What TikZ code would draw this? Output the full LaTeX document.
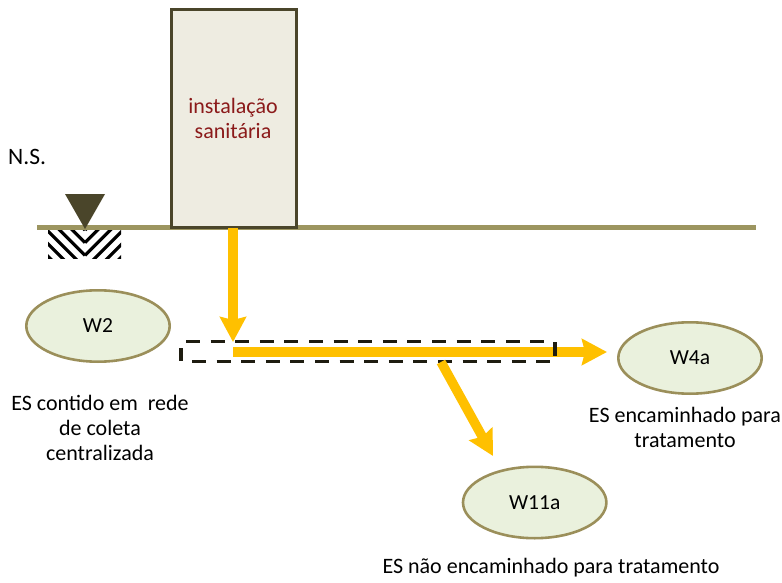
\documentclass[tikz,border=0pt]{standalone}
\usepackage{fontspec}
\setmainfont{Carlito}
\usetikzlibrary{arrows.meta,shapes.geometric}
\definecolor{flow}{HTML}{FFC000}
\definecolor{boxfill}{HTML}{EEECE1}
\definecolor{boxline}{HTML}{4A452A}
\definecolor{ground}{HTML}{9C9560}
\definecolor{ellfill}{HTML}{EAF1DD}
\definecolor{ellline}{HTML}{9B8F5A}
\definecolor{sanit}{HTML}{8B1A1A}
\definecolor{dashc}{HTML}{1E1C10}
\tikzset{
  x=1pt,y=-1pt,
  state/.style={ellipse,draw=ellline,line width=2.6pt,fill=ellfill,minimum width=143.4pt,minimum height=71.4pt,inner sep=0pt,font=\fontsize{21.5}{25}\selectfont,text=black},
  flowline/.style={draw=flow,line width=9.5pt,-{Stealth[inset=3pt,length=25pt,width=26pt]}},
  pipe/.style={draw=dashc,line width=3pt,dash pattern=on 14pt off 10.6pt},
  pipetick/.style={draw=dashc,line width=3.2pt},
  caption/.style={align=center,font=\fontsize{22}{25}\selectfont,text=black,inner sep=0pt},
}
\begin{document}
\begin{tikzpicture}
\useasboundingbox (0,0) rectangle (782,583);
% hatching
\begin{scope}
\clip (48,229) rectangle (121,258);
\foreach \k in {-1,...,7}{
  \draw[line width=3.2pt,black] (85,{230+12.7*\k}) -- +(-60,-60);
  \draw[line width=3.2pt,black] (85,{230+12.7*\k}) -- +(60,-60);
}
\end{scope}
\coordinate (gl) at (37,227);
\coordinate (gr) at (756,227);
\draw[ground,line width=5pt] (gl) -- (gr);
\node[draw=boxline,line width=3pt,fill=boxfill,minimum width=125pt,minimum height=218pt,inner sep=0pt,anchor=north west] (san) at (169.5,8) {};
\node[align=center,text=sanit,font=\fontsize{22}{25}\selectfont,inner sep=0pt] (santxt) at (233,118) {instalação\\sanitária};
\coordinate (t1) at (65,194);\coordinate (t2) at (105,194);\coordinate (t3) at (85,229);
\fill[boxline] (t1) -- (t2) -- (t3) -- cycle;
\node[anchor=west,font=\fontsize{23.5}{26}\selectfont,inner sep=0pt] (ns) at (8,157) {N.S.};
\node[state] (w2) at (98,326) {W2};
\node[state] (w4) at (690,358) {W4a};
\node[state] (w11) at (534.7,502.5) {W11a};
% dashed pipe
\coordinate (pa) at (186,341.5);\coordinate (pb) at (544,341.5);
\coordinate (pc) at (192,361.5);\coordinate (pd) at (552,361.5);
\coordinate (pg) at (555,342);\coordinate (ph) at (555,356);
\coordinate (pe) at (181,348);\coordinate (pf) at (181,361);
\draw[pipe] (pa) -- (pb);
\draw[pipe] (pc) -- (pd);
% flows
\coordinate (fa) at (233,228);\coordinate (fb) at (233,342);
\coordinate (fc) at (233,352);\coordinate (fd) at (607,352);
\coordinate (fe) at (441,362);\coordinate (ff) at (493,456);
\draw[flowline] (fa) -- (fb);
\draw[flowline] (fc) -- (fd);
\draw[flowline] (fe) -- (ff);
\draw[pipetick] (pe) -- (pf);
\draw[pipetick] (pg) -- (ph);
\node[caption] (c2) at (100,428) {ES contido em~ rede\\de coleta\\centralizada};
\node[caption] (c4) at (685,427) {ES encaminhado para\\tratamento};
\node[caption] (c11) at (551,568) {ES não encaminhado para tratamento};
\end{tikzpicture}
\end{document}
